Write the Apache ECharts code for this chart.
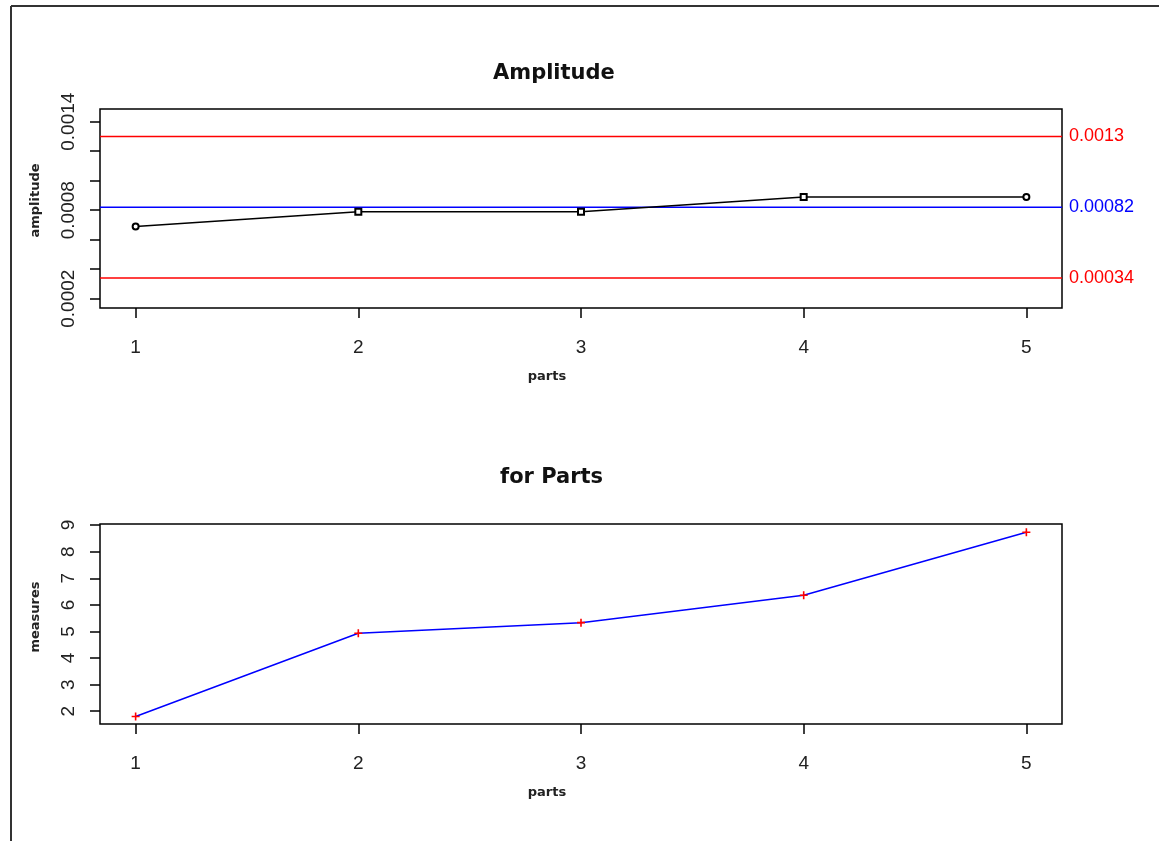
<!DOCTYPE html>
<html>
<head>
<meta charset="utf-8">
<script src="https://cdn.jsdelivr.net/npm/echarts@6/dist/echarts.min.js"></script>
<style>
html, body { margin: 0; padding: 0; background: #fff; }
#main { width: 1159px; height: 841px; }
</style>
</head>
<body>
<div id="main"></div>
<script>
// data
var parts = [1, 2, 3, 4, 5];
var amplitude = [0.00069, 0.00079, 0.00079, 0.00089, 0.00089];
var ampSymbols = ['emptyCircle', 'emptyRect', 'emptyRect', 'emptyRect', 'emptyCircle'];
var measures = [1.80, 4.93, 5.33, 6.36, 8.73];
var limitValues = [0.0013, 0.00082, 0.00034];
var limitLabels = ['0.0013', '0.00082', '0.00034'];
var limitColors = ['#ff0000', '#0000ff', '#ff0000'];
var ampTicks = [0.0002, 0.0004, 0.0006, 0.0008, 0.0010, 0.0012, 0.0014];
var ampTickLabels = [0.0002, 0.0008, 0.0014];
var measTicks = [2, 3, 4, 5, 6, 7, 8, 9];

// axis ranges (R style, 4% padding)
var xMin = 0.84, xMax = 5.16;

var myChart = echarts.init(document.getElementById('main'));

var labelFont = { fontFamily: 'Liberation Sans', fontSize: 19, color: '#222' };
var nameFont = { fontFamily: 'DejaVu Sans', fontSize: 13, fontWeight: 'bold', color: '#222' };
var titleFont = { fontFamily: 'DejaVu Sans', fontSize: 21, fontWeight: 'bold', color: '#111' };

function xAxisFor(gridIndex) {
	return {
		type: 'value', gridIndex: gridIndex, min: xMin, max: xMax,
		name: 'parts', nameLocation: 'middle', nameGap: 62,
		nameTextStyle: Object.assign({ padding: [0, 68, 0, 0] }, nameFont),
		axisLine: { show: false },
		splitLine: { show: false },
		axisTick: { show: true, length: 10, lineStyle: { color: '#000', width: 1.5 }, customValues: parts },
		axisLabel: Object.assign({ margin: 30, customValues: parts }, labelFont)
	};
}

var ampData = parts.map(function (p, i) {
	return { value: [p, amplitude[i]], symbol: ampSymbols[i] };
});
var measData = parts.map(function (p, i) { return [p, measures[i]]; });

// control lines drawn across the whole x range
var limitSeries = limitValues.map(function (v, i) {
	return {
		type: 'line', xAxisIndex: 0, yAxisIndex: 0,
		data: [[xMin, v], [xMax, v]],
		symbol: 'none', silent: true,
		lineStyle: { color: limitColors[i], width: 1.5 },
		endLabel: {
			show: true, distance: 7, formatter: limitLabels[i], padding: [7, 0, 0, 0],
			color: limitColors[i], fontFamily: 'Liberation Sans', fontSize: 18
		},
		z: 2
	};
});

option = {
	animation: false,
	backgroundColor: '#fff',
	title: [
		{ text: 'Amplitude', left: 488, top: 58, textStyle: titleFont },
		{ text: 'for Parts', left: 495, top: 462, textStyle: titleFont }
	],
	grid: [
		{ left: 100, right: 97, top: 109, height: 199, show: true, borderColor: '#000', borderWidth: 1.5 },
		{ left: 100, right: 97, top: 524, height: 200, show: true, borderColor: '#000', borderWidth: 1.5 }
	],
	xAxis: [xAxisFor(0), xAxisFor(1)],
	yAxis: [
		{
			type: 'value', gridIndex: 0, min: 0.000137, max: 0.001486,
			name: 'amplitude', nameLocation: 'middle', nameGap: 58,
			nameTextStyle: Object.assign({ padding: [0, 0, 0, 16] }, nameFont),
			axisLine: { show: false }, splitLine: { show: false },
			axisTick: { show: true, length: 10, lineStyle: { color: '#000', width: 1.5 }, customValues: ampTicks },
			axisLabel: Object.assign({ rotate: 90, margin: 22, customValues: ampTickLabels,
				formatter: function (v) { return v.toFixed(4); } }, labelFont)
		},
		{
			type: 'value', gridIndex: 1, min: 1.52, max: 9.04,
			name: 'measures', nameLocation: 'middle', nameGap: 58,
			nameTextStyle: Object.assign({ padding: [0, 0, 0, 14] }, nameFont),
			axisLine: { show: false }, splitLine: { show: false },
			axisTick: { show: true, length: 10, lineStyle: { color: '#000', width: 1.5 }, customValues: measTicks },
			axisLabel: Object.assign({ rotate: 90, margin: 22, customValues: measTicks }, labelFont)
		}
	],
	graphic: [
		{ type: 'line', shape: { x1: 11, y1: 6, x2: 11, y2: 841 }, style: { stroke: '#333', lineWidth: 2 } },
		{ type: 'line', shape: { x1: 11, y1: 6, x2: 1159, y2: 6 }, style: { stroke: '#333', lineWidth: 2 } }
	],
	series: limitSeries.concat([
		{
			type: 'line', xAxisIndex: 0, yAxisIndex: 0, data: ampData,
			symbolSize: 6, showAllSymbol: true,
			lineStyle: { color: '#000', width: 1.5 },
			itemStyle: { color: '#000', borderColor: '#000', borderWidth: 1.2 },
			z: 3
		},
		{
			type: 'line', xAxisIndex: 1, yAxisIndex: 1, data: measData,
			symbol: 'path://M4,0h2v4h4v2h-4v4h-2v-4h-4v-2h4z', symbolSize: 8, showAllSymbol: true,
			lineStyle: { color: '#0000ff', width: 1.5 },
			itemStyle: { color: '#ff0000' }
		}
	])
};

myChart.setOption(option, true);
</script>
</body>
</html>
